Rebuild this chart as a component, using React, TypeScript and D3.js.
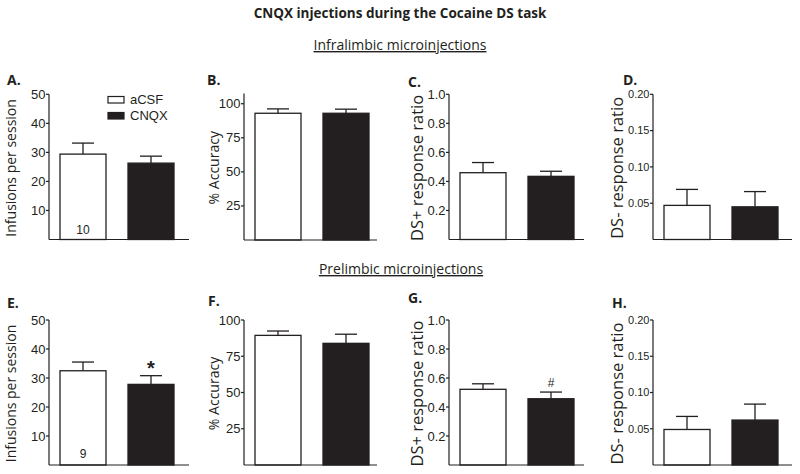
import React from "react";
import * as d3 from "d3";

// ---- data ----
const groups = ["aCSF", "CNQX"];

const ilInfusionsMean = [29.4, 26.3];
const ilInfusionsSem = [3.8, 2.4];
const ilAccuracyMean = [93.0, 93.0];
const ilAccuracySem = [3.2, 3.0];
const ilDsPlusMean = [0.46, 0.435];
const ilDsPlusSem = [0.07, 0.035];
const ilDsMinusMean = [0.047, 0.045];
const ilDsMinusSem = [0.022, 0.021];

const plInfusionsMean = [32.5, 27.8];
const plInfusionsSem = [3.0, 3.0];
const plAccuracyMean = [89.4, 83.9];
const plAccuracySem = [3.0, 6.3];
const plDsPlusMean = [0.522, 0.457];
const plDsPlusSem = [0.038, 0.046];
const plDsMinusMean = [0.049, 0.062];
const plDsMinusSem = [0.018, 0.022];

const infusionTicks = [10, 20, 30, 40, 50];
const accuracyTicks = [25, 50, 75, 100];
const dsPlusTicks = [0.2, 0.4, 0.6, 0.8, 1.0];
const dsMinusTicks = [0.05, 0.1, 0.15, 0.2];

const ilN = "10";
const plN = "9";

const INK = "#231f20";
const SANS = "'Open Sans', 'Noto Sans', sans-serif";
const ARIAL = "'Liberation Sans', Arial, sans-serif";

type PanelProps = {
  letter: string;
  letterX: number;
  letterY: number;
  ylabel: string;
  ylabelX: number;
  ylabelSize: number;
  axisX: number;
  axisEnd: number;
  yZero: number;
  yTop: number;
  domainMax: number;
  axisTopValue: number;
  ticks: number[];
  fmt: (v: number) => string;
  tickFont: number;
  mean: number[];
  sem: number[];
  nLabel?: string;
  nLabelY?: number;
  marker?: string;
  markerSize?: number;
  markerY?: number;
  markerBold?: boolean;
  legend?: boolean;
};

function Panel(p: PanelProps) {
  const y = d3.scaleLinear().domain([0, p.domainMax]).range([p.yZero, p.yTop]);
  const x = d3
    .scaleBand<string>()
    .domain(groups)
    .range([p.axisX + 11, p.axisX + 125])
    .paddingInner(22 / 68)
    .paddingOuter(0);
  const bw = x.bandwidth();
  const capHalf = 11;
  const topY = y(p.axisTopValue);
  const midY = (p.yZero + topY) / 2 + 1;
  return (
    <g>
      <text x={p.letterX} y={p.letterY} fontFamily={SANS} fontWeight={700} fontSize={14} fill={INK}>
        {p.letter}
      </text>
      <text
        transform={`translate(${p.ylabelX},${midY}) rotate(-90)`}
        textAnchor="middle"
        dy="0.35em"
        fontFamily={SANS}
        fontSize={p.ylabelSize}
        fill={INK}
      >
        {p.ylabel}
      </text>
      {groups.map((g, i) => {
        const bx = x(g)!;
        const cx = bx + bw / 2;
        const top = y(p.mean[i]);
        const et = y(p.mean[i] + p.sem[i]);
        return (
          <g key={g}>
            <line x1={cx} x2={cx} y1={top} y2={et} stroke={INK} strokeWidth={1.3} />
            <line x1={cx - capHalf} x2={cx + capHalf} y1={et} y2={et} stroke={INK} strokeWidth={1.3} />
            <rect
              x={bx}
              y={top}
              width={bw}
              height={p.yZero - top}
              fill={i === 0 ? "#ffffff" : INK}
              stroke={INK}
              strokeWidth={1.3}
            />
          </g>
        );
      })}
      <line x1={p.axisX} x2={p.axisX} y1={p.yZero} y2={topY} stroke={INK} strokeWidth={1.2} />
      <line x1={p.axisX} x2={p.axisEnd} y1={p.yZero} y2={p.yZero} stroke={INK} strokeWidth={1.2} />
      {p.ticks.map((t) => (
        <g key={t}>
          <line x1={p.axisX - 3} x2={p.axisX} y1={y(t)} y2={y(t)} stroke={INK} strokeWidth={1.2} />
          <text
            x={p.axisX - 3.5}
            y={y(t)}
            dy="0.35em"
            textAnchor="end"
            fontFamily={ARIAL}
            fontSize={p.tickFont}
            fill={INK}
          >
            {p.fmt(t)}
          </text>
        </g>
      ))}
      {p.nLabel && (
        <text
          x={x(groups[0])! + bw / 2}
          y={p.nLabelY}
          textAnchor="middle"
          fontFamily={ARIAL}
          fontSize={12}
          fill={INK}
        >
          {p.nLabel}
        </text>
      )}
      {p.marker && (
        <text
          x={x(groups[1])! + bw / 2}
          y={p.markerY}
          textAnchor="middle"
          fontFamily={ARIAL}
          fontWeight={p.markerBold ? 700 : 400}
          fontSize={p.markerSize}
          fill={INK}
        >
          {p.marker}
        </text>
      )}
      {p.legend && (
        <g>
          <rect x={108} y={96.5} width={16} height={6.5} fill="#fff" stroke={INK} strokeWidth={1.2} />
          <rect x={108} y={112.5} width={16} height={6.5} fill={INK} stroke={INK} strokeWidth={1.2} />
          <text x={130} y={103.5} fontFamily={ARIAL} fontSize={13} fill={INK}>
            {groups[0]}
          </text>
          <text x={130} y={120} fontFamily={ARIAL} fontSize={13} fill={INK}>
            {groups[1]}
          </text>
        </g>
      )}
    </g>
  );
}

const f0 = d3.format("d");
const f1 = d3.format(".1f");
const f2 = d3.format(".2f");

export default function App() {
  const r1 = { yZero: 239.5, yTop: 94.3 };
  const r2 = { yZero: 465, yTop: 320 };
  return (
    <svg
      width={800}
      height={474}
      viewBox="0 0 800 474"
      style={{ position: "absolute", left: 0, top: 0, background: "#fff" }}
    >
      <rect x={0} y={0} width={800} height={474} fill="#fff" />
      <text x={400} y={18} textAnchor="middle" fontFamily={SANS} fontWeight={700} fontSize={13.5} fill={INK}>
        CNQX injections during the Cocaine DS task
      </text>
      <text x={400} y={50} textAnchor="middle" fontFamily={SANS} fontSize={14} fill={INK} textDecoration="underline">
        Infralimbic microinjections
      </text>
      <text x={401} y={274} textAnchor="middle" fontFamily={SANS} fontSize={14} fill={INK} textDecoration="underline">
        Prelimbic microinjections
      </text>

      {/* Row 1 */}
      <Panel letter="A." letterX={7} letterY={85} ylabel="Infusions per session" ylabelX={11} ylabelSize={14}
        axisX={49} axisEnd={189} {...r1} domainMax={50} axisTopValue={50} ticks={infusionTicks} fmt={f0} tickFont={13}
        mean={ilInfusionsMean} sem={ilInfusionsSem} nLabel={ilN} nLabelY={234} legend />
      <Panel letter="B." letterX={207} letterY={85} ylabel="% Accuracy" ylabelX={214} ylabelSize={14}
        axisX={244} axisEnd={377} yZero={240} yTop={93.5} domainMax={107.5} axisTopValue={107.5} ticks={accuracyTicks} fmt={f0} tickFont={13}
        mean={ilAccuracyMean} sem={ilAccuracySem} />
      <Panel letter="C." letterX={408} letterY={87} ylabel="DS+ response ratio" ylabelX={417} ylabelSize={16.5}
        axisX={449} axisEnd={584} {...r1} domainMax={1} axisTopValue={1} ticks={dsPlusTicks} fmt={f1} tickFont={13}
        mean={ilDsPlusMean} sem={ilDsPlusSem} />
      <Panel letter="D." letterX={623} letterY={85} ylabel="DS- response ratio" ylabelX={617} ylabelSize={16.5}
        axisX={653} axisEnd={792} {...r1} domainMax={0.2} axisTopValue={0.2} ticks={dsMinusTicks} fmt={f2} tickFont={11}
        mean={ilDsMinusMean} sem={ilDsMinusSem} />

      {/* Row 2 */}
      <Panel letter="E." letterX={7} letterY={308} ylabel="Infusions per session" ylabelX={11} ylabelSize={14}
        axisX={49} axisEnd={189} {...r2} domainMax={50} axisTopValue={50} ticks={infusionTicks} fmt={f0} tickFont={13}
        mean={plInfusionsMean} sem={plInfusionsSem} nLabel={plN} nLabelY={458}
        marker="*" markerSize={20} markerY={375} markerBold />
      <Panel letter="F." letterX={208} letterY={306} ylabel="% Accuracy" ylabelX={214} ylabelSize={14}
        axisX={244} axisEnd={377} {...r2} domainMax={100} axisTopValue={100} ticks={accuracyTicks} fmt={f0} tickFont={13}
        mean={plAccuracyMean} sem={plAccuracySem} />
      <Panel letter="G." letterX={408} letterY={303} ylabel="DS+ response ratio" ylabelX={417} ylabelSize={16.5}
        axisX={449} axisEnd={584} {...r2} domainMax={1} axisTopValue={1} ticks={dsPlusTicks} fmt={f1} tickFont={13}
        mean={plDsPlusMean} sem={plDsPlusSem}
        marker="#" markerSize={12} markerY={387} />
      <Panel letter="H." letterX={612} letterY={308} ylabel="DS- response ratio" ylabelX={617} ylabelSize={16.5}
        axisX={653} axisEnd={792} {...r2} domainMax={0.2} axisTopValue={0.2} ticks={dsMinusTicks} fmt={f2} tickFont={11}
        mean={plDsMinusMean} sem={plDsMinusSem} />
    </svg>
  );
}
